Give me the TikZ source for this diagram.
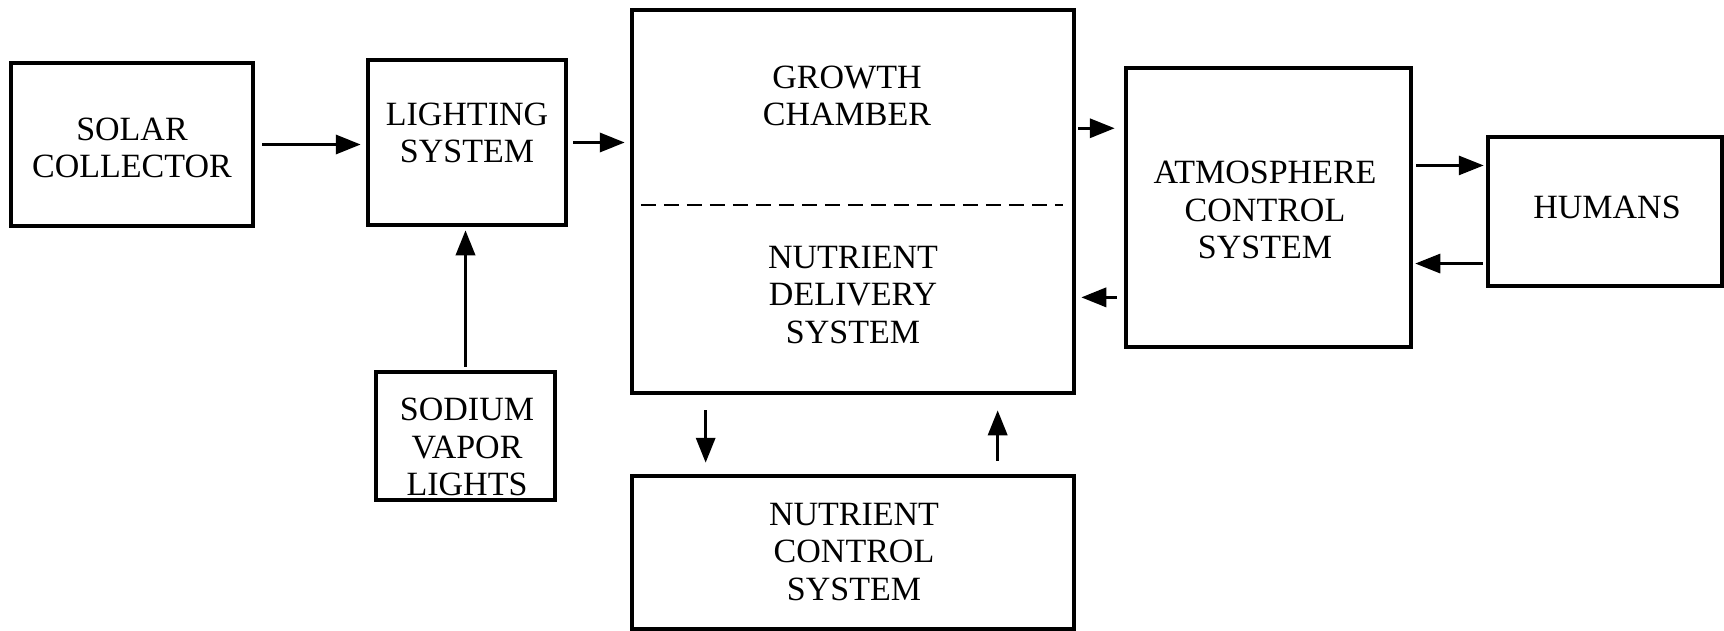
\documentclass[tikz,border=0pt]{standalone}
\usepackage{fontspec}
\setmainfont{Liberation Serif}
\usetikzlibrary{arrows.meta,calc}
\tikzset{
  box/.style={draw, line width=4.5pt, inner sep=0pt, rectangle},
  lbl/.style={align=center, font=\fontsize{34}{37.5}\selectfont, inner sep=0pt},
  arr/.style={line width=3.5pt, -{Triangle[length=25pt,width=19pt]}},
}
\begin{document}
\begin{tikzpicture}[x=1pt,y=-1pt]
\useasboundingbox (0,0) rectangle (1724,631);
% boxes
\node[box, minimum width=242pt, minimum height=163pt] (sc) at (132,144.5) {};
\node[box, minimum width=198pt, minimum height=165pt] (ls) at (467,142.5) {};
\node[box, minimum width=442pt, minimum height=383pt] (gc) at (853,201.5) {};
\node[box, minimum width=285pt, minimum height=279pt] (ac) at (1268.5,207.5) {};
\node[box, minimum width=234pt, minimum height=149pt] (hu) at (1605,211.5) {};
\node[box, minimum width=179pt, minimum height=128pt] (sv) at (465.5,436) {};
\node[box, minimum width=442pt, minimum height=153pt] (nc) at (853,552.5) {};
% labels
\node[lbl] (sct) at (132,148) {SOLAR\\COLLECTOR};
\node[lbl] (lst) at (467,133) {LIGHTING\\SYSTEM};
\node[lbl] (gct) at (847,96) {GROWTH\\CHAMBER};
\node[lbl] (ndt) at (853,295) {NUTRIENT\\DELIVERY\\SYSTEM};
\node[lbl] (act) at (1265,210) {ATMOSPHERE\\CONTROL\\SYSTEM};
\node[lbl] (hut) at (1607,207) {HUMANS};
\node[lbl] (svt) at (467,447) {SODIUM\\VAPOR\\LIGHTS};
\node[lbl] (nct) at (854,552) {NUTRIENT\\CONTROL\\SYSTEM};
% dashed divider
\coordinate (dl) at ($(gc.west)+(11,3.5)$);
\coordinate (dr) at ($(gc.east)+(-13,3.5)$);
\draw[line width=2.5pt, dash pattern=on 15pt off 8pt] (dl) -- (dr);
% connectors
\draw[arr, shorten <=7pt, shorten >=5pt] (sc.east) -- (sc.east -| ls.west);
\draw[arr, shorten <=5pt, shorten >=5pt] (ls.east) -- (ls.east -| gc.west);
\coordinate (g1) at ($(gc.north east)!0.311!(gc.south east)$);
\draw[arr, shorten <=2pt, shorten >=9pt] (g1) -- (g1 -| ac.west);
\coordinate (a1) at ($(ac.north west)!0.817!(ac.south west)$);
\draw[arr, shorten <=7pt, shorten >=5pt] (a1) -- (a1 -| gc.east);
\coordinate (h1) at ($(hu.north west)!0.2!(hu.south west)$);
\draw[arr, line width=3pt, shorten <=3pt, shorten >=2pt] (h1 -| ac.east) -- (h1);
\coordinate (h2) at ($(hu.north west)!0.839!(hu.south west)$);
\draw[arr, line width=3pt, shorten <=3pt, shorten >=2pt] (h2) -- (h2 -| ac.east);
\draw[arr, shorten <=3pt, shorten >=3pt] (sv.north) -- (sv.north |- ls.south);
\coordinate (b1) at ($(gc.south west)!0.17!(gc.south east)$);
\draw[arr, shorten <=15pt, shorten >=11pt] (b1) -- (b1 |- nc.north);
\coordinate (b2) at ($(gc.south west)!0.824!(gc.south east)$);
\draw[arr, shorten <=13pt, shorten >=15pt] (b2 |- nc.north) -- (b2);
\end{tikzpicture}
\end{document}
